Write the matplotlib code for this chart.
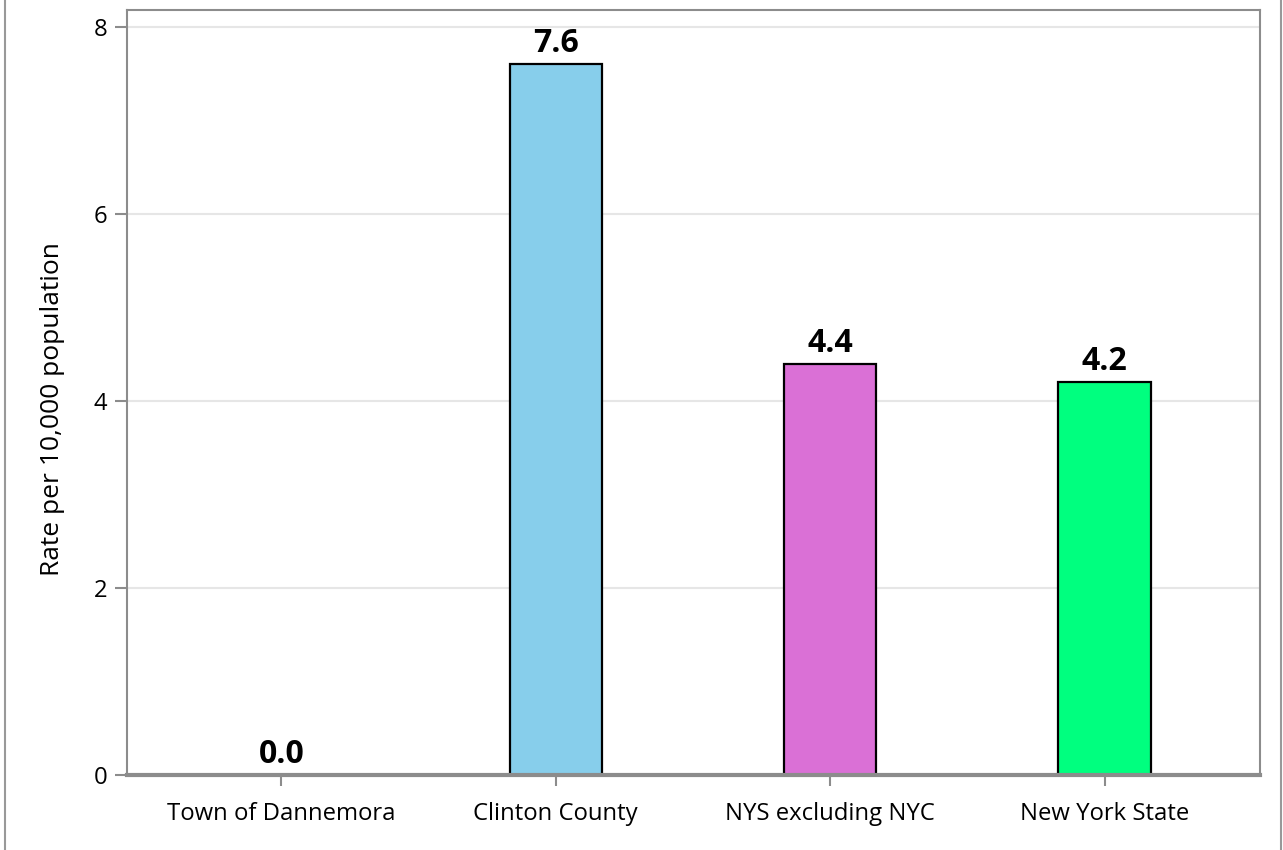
import matplotlib
matplotlib.use("Agg")
import matplotlib.pyplot as plt
from matplotlib.lines import Line2D

# data
categories = ["Town of Dannemora", "Clinton County", "NYS excluding NYC", "New York State"]
rates = [0.0, 7.6, 4.4, 4.2]
bar_colors = ["#87CEEB", "#87CEEB", "#DA70D6", "#00FF7F"]
y_ticks = [0, 2, 4, 6, 8]

SPINE = "#8c8c8c"
FONT = ["Open Sans", "DejaVu Sans"]

fig = plt.figure(figsize=(12.83, 8.5), dpi=100)
ax = fig.add_axes([0.099, 0.088, 0.883, 0.900])

x = list(range(len(categories)))
ax.bar(x, rates, width=0.336, color=bar_colors, edgecolor="black", linewidth=1.6, zorder=2)

for xi, v in zip(x, rates):
    ax.annotate(f"{v:.1f}", (xi, v), xytext=(0, 3), textcoords="offset points",
                ha="center", va="bottom", fontsize=23, fontweight="bold", family=FONT)

ax.set_xlim(-0.562, 3.566)
ax.set_ylim(0, 8.18)
ax.set_yticks(y_ticks)
ax.set_xticks(x)
ax.set_xticklabels(categories, family=FONT, fontsize=17.2)
for lab in ax.get_yticklabels():
    lab.set_family(FONT)
    lab.set_fontsize(17.2)

ax.set_ylabel("Rate per 10,000 population", family=FONT, fontsize=19, labelpad=21)
# the reference sits its axis title a little below the middle of the axis
ax.yaxis.label.set_y(0.478)

ax.grid(axis="y", color="#e6e6e6", linewidth=1.5, zorder=0)
ax.set_axisbelow(True)

for side in ["top", "right", "left"]:
    ax.spines[side].set_color(SPINE)
    ax.spines[side].set_linewidth(1.5)
ax.spines["bottom"].set_color(SPINE)
ax.spines["bottom"].set_linewidth(3)
ax.tick_params(axis="y", color=SPINE, length=9, width=1.5, pad=5)
ax.tick_params(axis="x", color=SPINE, length=8, width=1.5, pad=11)

# outer frame edges seen on the left and right of the image
fig.add_artist(Line2D([0.004, 0.004], [0, 1], color="#999999", linewidth=1.5))
fig.add_artist(Line2D([0.9985, 0.9985], [0, 1], color="#999999", linewidth=1.5))

fig.savefig("out.png", dpi=100)
